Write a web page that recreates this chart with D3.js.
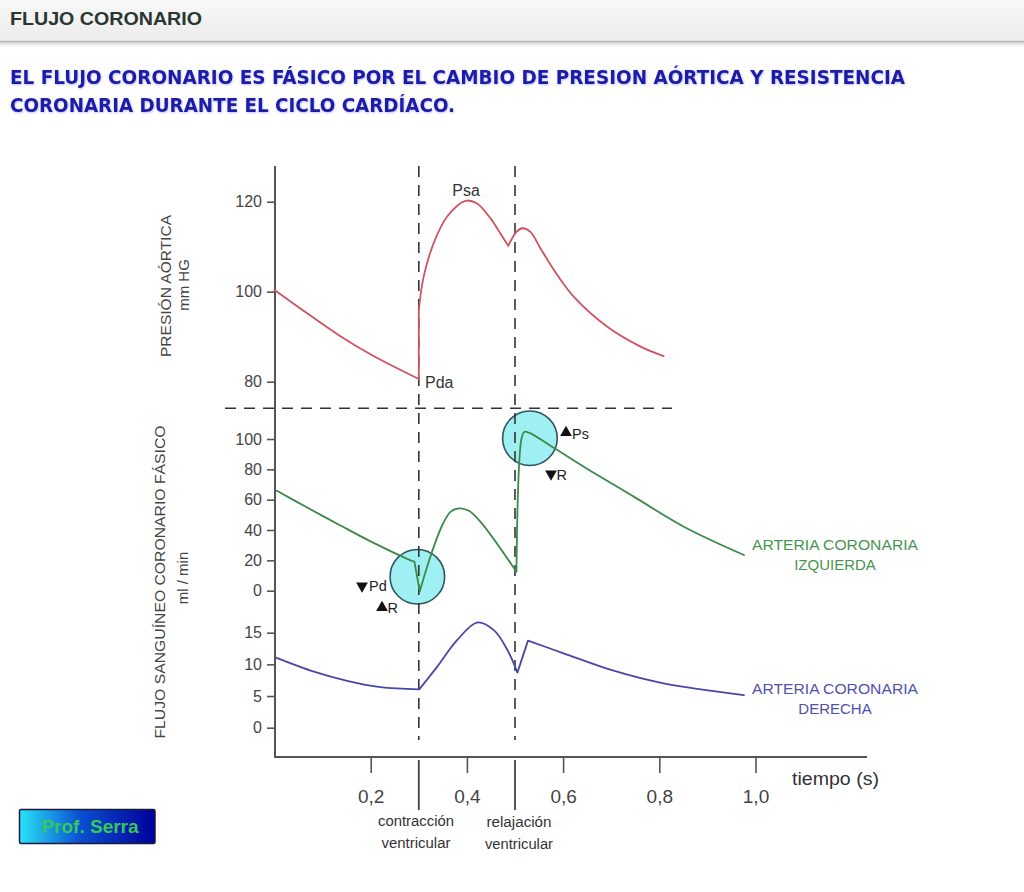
<!DOCTYPE html>
<html><head><meta charset="utf-8">
<script src="https://cdn.jsdelivr.net/npm/d3@7"></script>
<style>
body{margin:0;background:#fff;}
svg{display:block;font-family:"Liberation Sans",Arial,sans-serif;}
</style>
</head><body>
<svg id="chart" width="1024" height="892"></svg>
<script>
// ---------- data ----------
const timeTicks = [0.2, 0.4, 0.6, 0.8, 1.0];
const pressureTicks = [80, 100, 120];
const leftFlowTicks = [0, 20, 40, 60, 80, 100];
const rightFlowTicks = [0, 5, 10, 15];
const phaseTimes = [0.3, 0.5];
const phaseLabels = [["contracción", "ventricular"], ["relajación", "ventricular"]];

// aortic pressure (mm Hg)
const pressureT = [0, 0.068, 0.137, 0.206, 0.3, 0.3, 0.31, 0.331, 0.359, 0.397, 0.421, 0.449, 0.47, 0.486, 0.503, 0.515, 0.532, 0.553, 0.588, 0.622, 0.692, 0.761, 0.809];
const pressureV = [100.4, 95.2, 90.1, 85.7, 80.6, 96, 103.3, 110.8, 116.7, 120.2, 119.6, 116.3, 112.9, 110.2, 113.3, 114.1, 113.3, 109.6, 103.7, 98.9, 92.2, 87.8, 85.7];
const pressureCorners = [4, 5, 13];

// left coronary artery flow (ml/min)
const leftT = [0.005, 0.068, 0.137, 0.206, 0.276, 0.291, 0.302, 0.324, 0.349, 0.366, 0.383, 0.404, 0.428, 0.503, 0.514, 0.52, 0.53, 0.588, 0.643, 0.747, 0.851, 0.976];
const leftV = [65.9, 54.8, 43.0, 31.5, 21.0, 19.1, -0.5, 22.4, 43.3, 52.0, 54.3, 52.7, 45.5, 12.5, 101, 104.8, 104, 92.7, 81.7, 62.0, 42.2, 23.5];
const leftCorners = [5, 6, 13];

// right coronary artery flow (ml/min)
const rightT = [0.003, 0.082, 0.151, 0.22, 0.301, 0.338, 0.38, 0.421, 0.456, 0.484, 0.505, 0.527, 0.601, 0.705, 0.809, 0.976];
const rightV = [11.06, 8.85, 7.4, 6.4, 6.06, 9.6, 13.85, 16.6, 15.4, 12.3, 8.7, 13.75, 11.75, 9.0, 7.0, 5.16];
const rightCorners = [4, 10, 11];

// highlighted zones on the left coronary curve
const circleT = [0.297, 0.531];
const circleV = [9.2, 100.5];

// ---------- drawing ----------
const svg = d3.select("#chart");
const defs = svg.append("defs");

const hg = defs.append("linearGradient").attr("id","hdr").attr("x1",0).attr("y1",0).attr("x2",0).attr("y2",1);
hg.append("stop").attr("offset","0%").attr("stop-color","#f8f8f8");
hg.append("stop").attr("offset","100%").attr("stop-color","#ececec");
const sg = defs.append("linearGradient").attr("id","shadow").attr("x1",0).attr("y1",0).attr("x2",0).attr("y2",1);
sg.append("stop").attr("offset","0%").attr("stop-color","#d4d4d4");
sg.append("stop").attr("offset","100%").attr("stop-color","#ffffff");
const pg = defs.append("linearGradient").attr("id","prof").attr("x1",0).attr("y1",0).attr("x2",1).attr("y2",0);
pg.append("stop").attr("offset","0%").attr("stop-color","#28e4f8");
pg.append("stop").attr("offset","45%").attr("stop-color","#0a4ed0");
pg.append("stop").attr("offset","100%").attr("stop-color","#00009a");
const glow = defs.append("filter").attr("id","glow").attr("x","-5%").attr("y","-30%").attr("width","110%").attr("height","160%");
glow.append("feDropShadow").attr("dx",0.5).attr("dy",0.8).attr("stdDeviation",1.0).attr("flood-color","#5a5aff").attr("flood-opacity",0.45);

// background + header band
svg.append("rect").attr("width",1024).attr("height",892).attr("fill","#ffffff");
svg.append("rect").attr("width",1024).attr("height",41).attr("fill","url(#hdr)");
svg.append("rect").attr("y",42).attr("width",1024).attr("height",5).attr("fill","url(#shadow)");
svg.append("line").attr("x1",0).attr("x2",1024).attr("y1",41.5).attr("y2",41.5).attr("stroke","#b9b9b9").attr("stroke-width",1.5);
svg.append("text").attr("x",10).attr("y",25).attr("font-size",18).attr("font-weight","bold")
  .attr("fill","#2b3631").attr("textLength",192).attr("lengthAdjust","spacingAndGlyphs").text("FLUJO CORONARIO");

// title
const titleLines = ["EL FLUJO CORONARIO ES FÁSICO POR EL CAMBIO DE PRESION AÓRTICA Y RESISTENCIA","CORONARIA DURANTE EL CICLO CARDÍACO."];
const titleWidths = [895, 445];
titleLines.forEach((s,i)=>{
  svg.append("text").attr("x",10).attr("y",83.5 + i*28).attr("font-family","'DejaVu Sans',Verdana,sans-serif")
    .attr("font-size",20).attr("font-weight","bold").attr("fill","#1a1aa6").attr("filter","url(#glow)")
    .attr("textLength",titleWidths[i]).attr("lengthAdjust","spacingAndGlyphs").text(s);
});

// scales
const x = d3.scaleLinear().domain([0,1]).range([274.5,755.5]);
const yP = d3.scaleLinear().domain([80,120]).range([381.7,201.7]);
const yL = d3.scaleLinear().domain([0,100]).range([590.7,439]);
const yR = d3.scaleLinear().domain([0,15]).range([727.7,632.7]);

const axisColor = "#555";
// highlight circles (under everything)
svg.append("g").selectAll("circle").data(circleT.map((t,i)=>[t,circleV[i]])).join("circle")
  .attr("cx",d=>x(d[0])).attr("cy",d=>yL(d[1])).attr("r",27.3)
  .attr("fill","#9ff0f2").attr("stroke","#2e5660").attr("stroke-width",1.6);

// dashed guides
const dashG = svg.append("g").attr("stroke","#333").attr("stroke-width",1.6).attr("stroke-dasharray","11,8");
dashG.selectAll("line").data(phaseTimes).join("line")
  .attr("x1",d=>x(d)).attr("x2",d=>x(d)).attr("y1",166).attr("y2",740);
dashG.append("line").attr("x1",225).attr("x2",672).attr("y1",408.3).attr("y2",408.3);

// main axis lines
svg.append("line").attr("x1",275).attr("x2",275).attr("y1",166).attr("y2",757).attr("stroke",axisColor).attr("stroke-width",2);
svg.append("line").attr("x1",274).attr("x2",867).attr("y1",757).attr("y2",757).attr("stroke",axisColor).attr("stroke-width",2);

function styleAxis(g, fs){
  g.select(".domain").remove();
  g.selectAll(".tick line").attr("stroke",axisColor).attr("stroke-width",1.6);
  g.selectAll(".tick text").attr("fill","#444").attr("font-size",fs).attr("font-family","'Liberation Sans',Arial,sans-serif");
}
[[yP,pressureTicks],[yL,leftFlowTicks],[yR,rightFlowTicks]].forEach(([sc,tv])=>{
  const g = svg.append("g").attr("transform","translate(275,0)")
    .call(d3.axisLeft(sc).tickValues(tv).tickSize(8).tickPadding(5).tickFormat(d3.format("d")));
  styleAxis(g,16);
});

const esLocale = d3.formatLocale({decimal:",", thousands:".", grouping:[3], currency:["","€"]});
const gx = svg.append("g").attr("transform","translate(0,757)")
  .call(d3.axisBottom(x).tickValues(timeTicks).tickSize(16).tickPadding(17).tickFormat(esLocale.format(".1f")));
styleAxis(gx,19);

// phase ticks & labels under axis
svg.append("g").selectAll("line").data(phaseTimes).join("line")
  .attr("x1",d=>x(d)).attr("x2",d=>x(d)).attr("y1",760).attr("y2",810)
  .attr("stroke","#444").attr("stroke-width",1.8);
const phaseCenters = [416, 519];
phaseLabels.forEach((lines,i)=>{
  lines.forEach((s,j)=>{
    svg.append("text").attr("x",phaseCenters[i]).attr("y",826 + j*22 - (i===0?0:-1)).attr("text-anchor","middle")
      .attr("font-size",14).attr("fill","#333")
      .attr("textLength", j===0 ? (i===0?76:65) : (i===0?69:68)).attr("lengthAdjust","spacingAndGlyphs").text(s);
  });
});
svg.append("text").attr("x",792).attr("y",785).attr("font-size",19).attr("fill","#333")
  .attr("textLength",87).attr("lengthAdjust","spacingAndGlyphs").text("tiempo (s)");

// curves
function segs(ts, vs, corners){
  const pts = ts.map((t,i)=>[t,vs[i]]);
  const cuts = [0, ...corners, pts.length-1];
  const out = [];
  for(let i=0;i<cuts.length-1;i++) out.push(pts.slice(cuts[i], cuts[i+1]+1));
  return out;
}
function drawSeries(ts, vs, corners, ys, color){
  const line = d3.line().x(d=>x(d[0])).y(d=>ys(d[1])).curve(d3.curveCatmullRom.alpha(0.5));
  svg.append("path").attr("d", segs(ts,vs,corners).map(s=>line(s)).join(""))
    .attr("fill","none").attr("stroke",color).attr("stroke-width",1.8)
    .attr("stroke-linejoin","round").attr("stroke-linecap","round");
}
drawSeries(pressureT, pressureV, pressureCorners, yP, "#cf5360");
drawSeries(leftT, leftV, leftCorners, yL, "#3b8a4a");
drawSeries(rightT, rightV, rightCorners, yR, "#4848a6");

// axis titles
function vText(cx, cy, s, len){
  const t = svg.append("text").attr("transform",`translate(${cx},${cy}) rotate(-90)`)
    .attr("text-anchor","middle").attr("dy","0.36em").attr("font-size",15).attr("fill","#444").text(s);
  if(len) t.attr("textLength",len).attr("lengthAdjust","spacingAndGlyphs");
}
vText(165.5, 286, "PRESIÓN AÓRTICA", 142);
vText(184, 285, "mm HG");
vText(160, 582, "FLUJO SANGUÍNEO CORONARIO FÁSICO", 313);
vText(183, 578, "ml / min");

// point labels
svg.append("text").attr("x",466).attr("y",196).attr("text-anchor","middle").attr("font-size",16).attr("fill","#333").text("Psa");
svg.append("text").attr("x",425).attr("y",388).attr("font-size",16).attr("fill","#333").text("Pda");

// triangle annotations
const tri = d3.symbol().type(d3.symbolTriangle).size(60);
const annots = [
  {cx:362, cy:586, down:true,  tx:369,   ty:591,   s:"Pd"},
  {cx:382, cy:607.5, down:false, tx:387.5, ty:613,   s:"R"},
  {cx:566, cy:432.5, down:false, tx:572,   ty:438.5, s:"Ps"},
  {cx:551, cy:474, down:true,  tx:556.5, ty:480,   s:"R"}
];
annots.forEach(a=>{
  svg.append("path").attr("d",tri()).attr("fill","#111")
    .attr("transform",`translate(${a.cx},${a.cy}) rotate(${a.down?180:0})`);
  svg.append("text").attr("x",a.tx).attr("y",a.ty).attr("font-size",14.5).attr("fill","#222").text(a.s);
});

// series labels
const seriesLabels = [
  {lines:["ARTERIA CORONARIA","IZQUIERDA"], y:550, color:"#46954f"},
  {lines:["ARTERIA CORONARIA","DERECHA"], y:694, color:"#5050b2"}
];
seriesLabels.forEach(L=>{
  L.lines.forEach((s,j)=>{
    const t = svg.append("text").attr("x",835).attr("y",L.y + j*19.5).attr("text-anchor","middle")
      .attr("font-size",15).attr("fill",L.color).text(s);
    if(j===0) t.attr("textLength",166).attr("lengthAdjust","spacingAndGlyphs");
  });
});

// Prof. Serra badge
svg.append("rect").attr("x",19.5).attr("y",809.5).attr("width",135.5).attr("height",34)
  .attr("fill","url(#prof)").attr("stroke","#1a1a3a").attr("stroke-width",1.5).attr("rx",1.5);
svg.append("text").attr("x",90).attr("y",833).attr("text-anchor","middle").attr("font-size",19)
  .attr("font-weight","bold").attr("fill","#35c95a").text("Prof. Serra");
</script>
</body></html>
